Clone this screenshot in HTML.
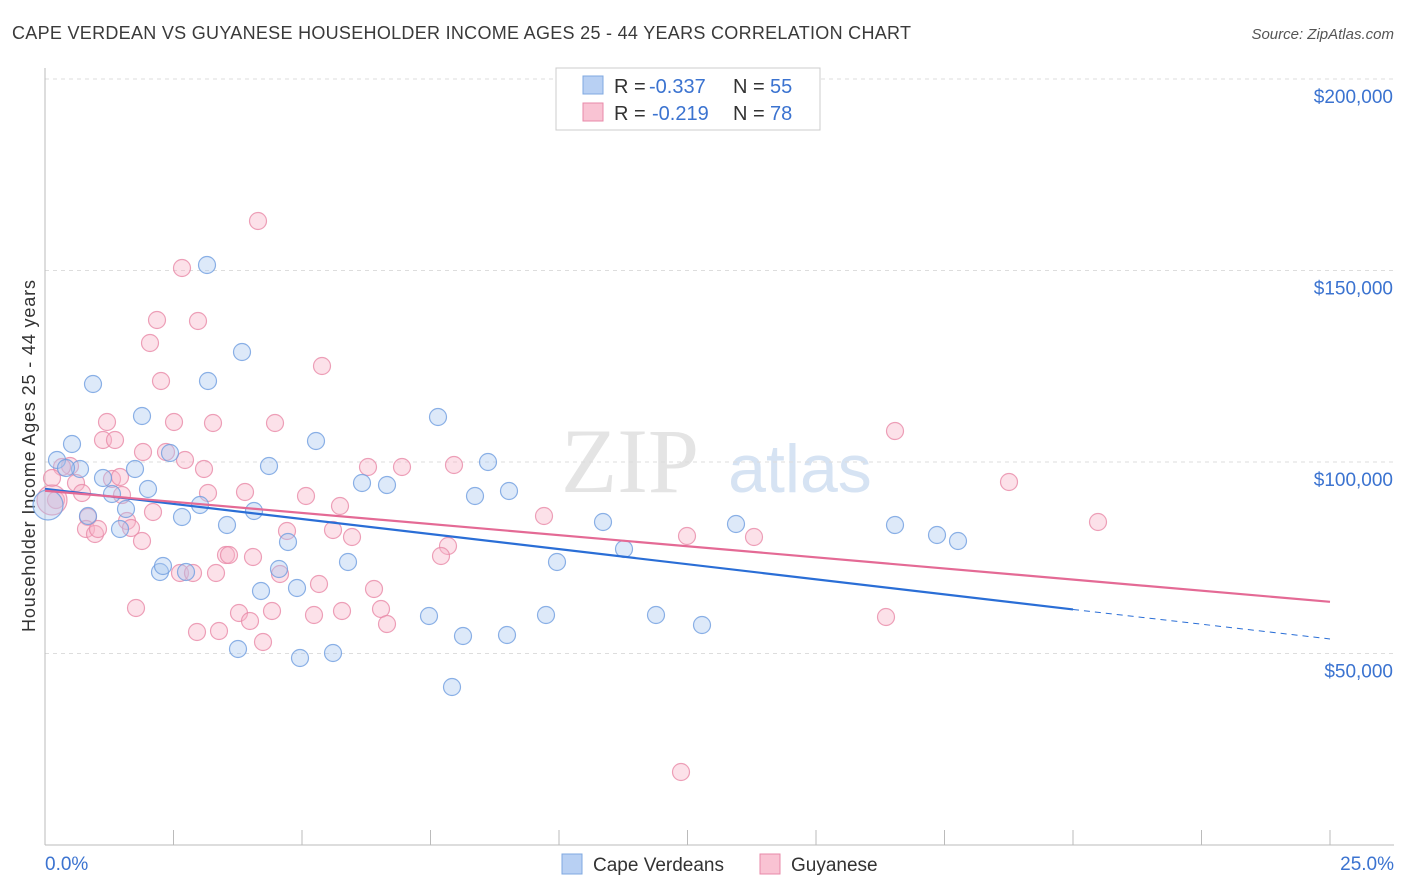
<!DOCTYPE html>
<html><head><meta charset="utf-8"><style>
body{margin:0;background:#fff;font-family:"Liberation Sans",sans-serif;}
svg{display:block}
</style></head><body>
<svg id="c" width="1406" height="892">
<text x="12" y="39" font-size="18" fill="#3a3a3a" textLength="899">CAPE VERDEAN VS GUYANESE HOUSEHOLDER INCOME AGES 25 - 44 YEARS CORRELATION CHART</text>
<text x="1394" y="39" font-size="15" fill="#555" font-style="italic" text-anchor="end">Source: ZipAtlas.com</text>
<text x="35" y="456" font-size="18" fill="#333" text-anchor="middle" textLength="352" transform="rotate(-90 35 456)">Householder Income Ages 25 - 44 years</text>
<g><text x="630" y="492" font-size="92" fill="#e4e4e4" font-family="Liberation Serif,serif" text-anchor="middle">ZIP</text><text x="800" y="492" font-size="68" fill="#d6e3f3" text-anchor="middle">atlas</text></g>
<g id="grid"></g><g id="axes"></g><g id="pts"></g><g id="trend"></g>
<g font-size="20">
<rect x="556" y="68" width="264" height="62" fill="#fff" stroke="#ccc"/>
<rect x="583" y="76" width="20" height="18" fill="#b8d0f3" stroke="#7fa8e0"/>
<text x="614" y="93" fill="#333">R =</text><text x="649" y="93" fill="#3b73d0">-0.337</text><text x="733" y="93" fill="#333">N =</text><text x="770" y="93" fill="#3b73d0">55</text>
<rect x="583" y="103" width="20" height="18" fill="#f9c3d3" stroke="#e889a8"/>
<text x="614" y="120" fill="#333">R =</text><text x="652" y="120" fill="#3b73d0">-0.219</text><text x="733" y="120" fill="#333">N =</text><text x="770" y="120" fill="#3b73d0">78</text>
</g>
<g>
<rect x="562" y="854" width="20" height="20" fill="#b8d0f3" stroke="#7fa8e0"/>
<text x="593" y="871" font-size="19" fill="#333">Cape Verdeans</text>
<rect x="760" y="854" width="20" height="20" fill="#f9c3d3" stroke="#e889a8"/>
<text x="791" y="871" font-size="19" fill="#333">Guyanese</text>
</g>
</svg>
<script>
const yTicks=[50000,100000,150000,200000];
const yTickLabels=["$50,000","$100,000","$150,000","$200,000"];
const xTickLabels=["0.0%","25.0%"];
const blueX=[72,57,80,66,103,112,126,120,88,93,142,135,148,160,163,170,182,186,200,207,208,227,242,254,238,261,269,279,288,297,300,316,333,348,362,387,429,438,452,463,475,488,507,509,546,557,603,624,656,702,736,895,937,958,48].map(p=>(p-45)/1285*25);
const blueY=[444,460,469,468,478,494,509,529,516,384,416,469,489,572,566,453,517,572,505,265,381,525,352,511,649,591,466,569,542,588,658,441,653,562,483,485,616,417,687,636,496,462,635,491,615,562,522,549,615,625,524,525,535,541,505].map(p=>Math.round(200000-(p-79)/191.5*50000));
const pinkX=[258,182,157,198,150,322,161,107,174,213,275,103,115,143,166,185,204,70,62,52,76,82,112,120,122,208,245,306,340,368,402,454,544,127,153,88,86,95,98,131,142,56,287,333,352,448,441,226,229,253,180,193,216,280,319,374,136,239,272,342,381,314,250,387,197,219,263,687,754,895,1009,1098,886,681,52].map(p=>(p-45)/1285*25);
const pinkY=[221,268,320,321,343,366,381,422,422,423,423,440,440,452,452,460,469,466,467,478,483,493,479,477,495,493,492,496,506,467,467,465,516,521,512,517,529,534,529,528,541,500,531,530,537,546,556,555,555,557,573,573,573,574,584,589,608,613,611,611,609,615,621,624,632,631,642,536,537,431,482,522,617,772,500].map(p=>Math.round(200000-(p-79)/191.5*50000));
const blueTrend=[0,93000,20,61500,25,53800];
const pinkTrend=[0,92500,25,63500];
const X=v=>45+v/25*1285, Y=v=>845-v/50000*191.5;
const NS="http://www.w3.org/2000/svg";
function mk(t,a,p){const e=document.createElementNS(NS,t);for(const k in a)e.setAttribute(k,a[k]);document.getElementById(p).appendChild(e);return e;}
yTicks.forEach((t,i)=>{
 const l=mk('line',{x1:45,x2:1394,y1:Y(t),y2:Y(t),stroke:'#ddd','stroke-dasharray':'4 4'},'grid');
 
 
 const tx=mk('text',{x:1393,y:Y(t)+24,'font-size':19,fill:'#3b73d0','text-anchor':'end'},'grid');tx.textContent=yTickLabels[i];
 
 
});
let a=mk('line',{x1:45,x2:45,y1:68,y2:845,stroke:'#bbb'},'axes');


a=mk('line',{x1:45,x2:1394,y1:845,y2:845,stroke:'#bbb'},'axes');


for(let i=0;i<=10;i++){const t=mk('line',{x1:X(i*2.5),x2:X(i*2.5),y1:830,y2:845,stroke:'#bbb'},'axes');
 
 }
[[45,'start',0],[1394,'end',1]].forEach(([x,an,i])=>{const t=mk('text',{x:x,y:870,'font-size':19,fill:'#3b73d0','text-anchor':an},'axes');t.textContent=xTickLabels[i];
 
 });
function pts(xs,ys,fill,st,name){xs.forEach((x,i)=>{const big=i==xs.length-1;const c=mk('circle',{cx:X(x),cy:Y(ys[i]),r:big?15:8.5,fill:fill,'fill-opacity':0.4,stroke:st,'stroke-width':1.2,'stroke-opacity':0.8},'pts');
 
 });}
pts(pinkX,pinkY,'#f7b3c8','#e889a8','guyanese-point');
pts(blueX,blueY,'#a9c7f0','#6f9ee0','cape-verdean-point');
let l=mk('line',{x1:X(blueTrend[0]),y1:Y(blueTrend[1]),x2:X(blueTrend[2]),y2:Y(blueTrend[3]),stroke:'#2a6ed6','stroke-width':2.2},'trend');


l=mk('line',{x1:X(blueTrend[2]),y1:Y(blueTrend[3]),x2:X(blueTrend[4]),y2:Y(blueTrend[5]),stroke:'#2a6ed6','stroke-width':1,'stroke-dasharray':'6 5'},'trend');


l=mk('line',{x1:X(pinkTrend[0]),y1:Y(pinkTrend[1]),x2:X(pinkTrend[2]),y2:Y(pinkTrend[3]),stroke:'#e46a95','stroke-width':2.2},'trend');


</script>
</body></html>
